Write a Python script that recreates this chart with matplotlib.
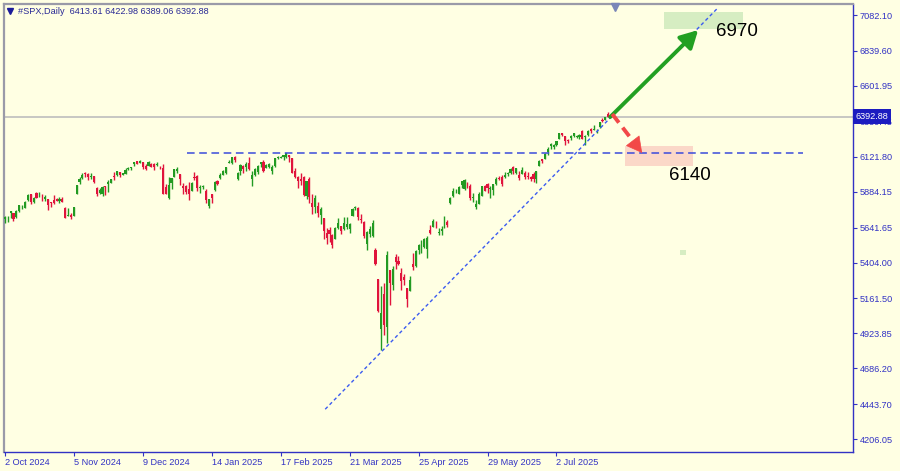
import matplotlib.pyplot as plt
import numpy as np

plt.rcParams['font.family'] = ['Liberation Sans', 'DejaVu Sans']

# #SPX daily bars, 2 Oct 2024 .. 28 Jul 2025 (broker calendar incl. holiday sessions)
opens = [
    5698, 5698, 5737, 5737, 5714, 5751, 5778, 5775, 5829, 5866, 5816, 5875, 5860, 5857, 5833, 5835, 5815, 5826, 5833, 5819, 5833, 5776,
    5723, 5725, 5722, 5869, 5947, 5976, 6009, 6003, 5985, 5990, 5912, 5874, 5870, 5918, 5934, 5945, 5993, 6000, 6015, 5999, 6004,
    6041, 6042, 6069, 6090, 6081, 6085, 6057, 6061, 6074, 6069, 6063, 6052, 6048, 5913, 5842, 5941, 5985, 6025, 6007, 5920, 5920,
    5903, 5891, 5982, 5994, 5910, 5918, 5891, 5788, 5869, 5896, 5960, 5978, 5997, 6014, 6081, 6076, 6121, 5970, 6026, 6057, 6051, 6082,
    5969, 5998, 6020, 6072, 6083, 6046, 6049, 6025, 6060, 6115, 6115, 6121, 6117, 6134, 6115, 6026, 5982, 5970, 5981, 5857,
    5969, 5811, 5782, 5787, 5727, 5705, 5603, 5624, 5594, 5563, 5635, 5654, 5633, 5646, 5630, 5718, 5776, 5772, 5696, 5680, 5527,
    5597, 5581, 5492, 5292, 4953, 5193, 4966, 5353, 5255, 5441, 5412, 5335, 5306, 5232, 5208, 5395, 5381, 5490, 5529, 5508, 5499,
    5626, 5646, 5655, 5605, 5621, 5663, 5680, 5808, 5855, 5893, 5871, 5929, 5903, 5945, 5921, 5842, 5782, 5803, 5855, 5925, 5939, 5903,
    5897, 5939, 5978, 5986, 5987, 6004, 6009, 6049, 6010, 5997, 6004, 6013, 5988, 5981, 6004, 5970, 6061, 6105, 6108, 6151, 6194,
    6188, 6199, 6244, 6279, 6259, 6235, 6246, 6264, 6256, 6255, 6294, 6253, 6269, 6312, 6304, 6307, 6326, 6369, 6371, 6413.61,
]
highs = [
    5720, 5718, 5753, 5739, 5757, 5796, 5796, 5822, 5871, 5870, 5846, 5879, 5879, 5866, 5863, 5835, 5817, 5862, 5843, 5847, 5851, 5780,
    5773, 5742, 5783, 5933, 5983, 6013, 6018, 6010, 6009, 5993, 5916, 5909, 5921, 5920, 5963, 5973, 6021, 6025, 6021, 6012, 6045,
    6053, 6053, 6089, 6092, 6100, 6089, 6069, 6092, 6080, 6079, 6085, 6057, 6071, 5936, 5982, 5978, 6041, 6049, 6007, 5941, 5929,
    5949, 5949, 6021, 6000, 5928, 5930, 5902, 5837, 5872, 5960, 5964, 6012, 6030, 6051, 6100, 6119, 6128, 6017, 6070, 6063, 6086, 6121,
    6022, 6042, 6062, 6084, 6101, 6074, 6076, 6064, 6116, 6128, 6128, 6130, 6147, 6134, 6115, 6044, 5993, 6009, 5993, 5959,
    5987, 5866, 5861, 5812, 5783, 5706, 5636, 5642, 5598, 5645, 5704, 5654, 5716, 5711, 5670, 5775, 5787, 5784, 5732, 5685, 5615,
    5651, 5695, 5500, 5293, 5247, 5268, 5481, 5353, 5381, 5459, 5450, 5368, 5329, 5233, 5310, 5469, 5489, 5529, 5554, 5572, 5581,
    5658, 5700, 5684, 5641, 5654, 5721, 5691, 5846, 5907, 5906, 5925, 5959, 5969, 5953, 5938, 5878, 5829, 5880, 5922, 5930, 5943, 5922,
    5938, 5981, 5991, 5999, 6016, 6021, 6043, 6059, 6046, 6027, 6051, 6023, 6018, 5990, 6019, 6028, 6101, 6108, 6146, 6187, 6215,
    6211, 6228, 6285, 6284, 6263, 6243, 6269, 6285, 6270, 6273, 6302, 6267, 6302, 6315, 6336, 6310, 6360, 6382, 6390, 6422.98,
]
lows = [
    5674, 5677, 5703, 5684, 5704, 5745, 5765, 5775, 5824, 5804, 5809, 5840, 5848, 5824, 5822, 5763, 5784, 5799, 5824, 5811, 5813, 5703,
    5723, 5696, 5722, 5869, 5939, 5970, 5985, 5966, 5968, 5942, 5853, 5866, 5855, 5860, 5885, 5945, 5963, 5992, 5984, 5996, 6004,
    6034, 6033, 6061, 6072, 6078, 6041, 6029, 6060, 6050, 6030, 6059, 6035, 5867, 5866, 5832, 5903, 5983, 6010, 5932, 5868, 5868,
    5829, 5888, 5961, 5890, 5874, 5905, 5808, 5774, 5810, 5888, 5933, 5969, 5995, 6006, 6077, 6075, 6089, 5962, 5995, 6014, 6027, 6030,
    5924, 5992, 6007, 6051, 6020, 6043, 6044, 6003, 6051, 6106, 6110, 6099, 6111, 6084, 6008, 5977, 5908, 5933, 5858, 5837,
    5810, 5733, 5742, 5711, 5667, 5565, 5528, 5546, 5505, 5563, 5633, 5598, 5622, 5632, 5603, 5718, 5757, 5695, 5670, 5573, 5489,
    5574, 5574, 5390, 5070, 4812, 4910, 4856, 5115, 5220, 5358, 5387, 5221, 5255, 5102, 5208, 5356, 5371, 5463, 5468, 5505, 5434,
    5597, 5644, 5639, 5591, 5590, 5637, 5646, 5798, 5850, 5876, 5868, 5908, 5895, 5910, 5830, 5817, 5767, 5800, 5855, 5886, 5875, 5843,
    5862, 5930, 5967, 5921, 5978, 5994, 6001, 6002, 6003, 5964, 6004, 5970, 5971, 5955, 5952, 5944, 6058, 6081, 6108, 6133, 6177,
    6176, 6194, 6242, 6262, 6201, 6216, 6235, 6252, 6250, 6240, 6242, 6203, 6265, 6285, 6302, 6283, 6315, 6355, 6369, 6389.06,
]
closes = [
    5710, 5700, 5751, 5696, 5751, 5792, 5780, 5815, 5860, 5815, 5842, 5841, 5865, 5854, 5851, 5797, 5810, 5808, 5824, 5833, 5814, 5705,
    5729, 5713, 5783, 5929, 5973, 5996, 6001, 5984, 5985, 5949, 5871, 5894, 5917, 5917, 5949, 5969, 5987, 6022, 5999, 6008, 6032,
    6047, 6050, 6086, 6075, 6090, 6053, 6035, 6084, 6051, 6051, 6074, 6051, 5872, 5867, 5931, 5974, 6040, 6038, 5971, 5907, 5882,
    5869, 5942, 5975, 5909, 5918, 5920, 5827, 5836, 5843, 5950, 5937, 5997, 6025, 6049, 6086, 6119, 6101, 6012, 6068, 6039, 6071, 6041,
    5995, 6038, 6061, 6084, 6026, 6066, 6069, 6052, 6115, 6115, 6120, 6130, 6144, 6118, 6013, 5983, 5955, 5956, 5862, 5955,
    5850, 5778, 5843, 5739, 5770, 5615, 5572, 5599, 5522, 5639, 5675, 5615, 5675, 5663, 5668, 5768, 5777, 5712, 5693, 5581, 5612,
    5633, 5671, 5397, 5074, 5062, 4983, 5457, 5268, 5363, 5406, 5397, 5276, 5283, 5158, 5288, 5376, 5485, 5525, 5529, 5561, 5569,
    5604, 5687, 5650, 5607, 5631, 5664, 5660, 5844, 5887, 5893, 5917, 5958, 5964, 5940, 5845, 5842, 5803, 5870, 5922, 5889, 5912, 5912,
    5936, 5970, 5971, 5939, 6000, 6006, 6039, 6022, 6045, 5977, 6033, 5983, 5981, 5970, 5968, 6025, 6092, 6092, 6141, 6173, 6205,
    6198, 6227, 6279, 6270, 6230, 6226, 6263, 6280, 6260, 6269, 6244, 6264, 6297, 6297, 6306, 6310, 6359, 6363, 6389, 6392.88,
]

date_labels = ['2 Oct 2024', '5 Nov 2024', '9 Dec 2024', '14 Jan 2025', '17 Feb 2025',
               '21 Mar 2025', '25 Apr 2025', '29 May 2025', '2 Jul 2025']
bars_per_label = 24
price_ticks = [7082.10, 6839.60, 6601.95, 6359.45, 6121.80, 5884.15, 5641.65,
               5404.00, 5161.50, 4923.85, 4686.20, 4443.70, 4206.05]
header = '#SPX,Daily  6413.61 6422.98 6389.06 6392.88'
last_price = 6392.88

# drawn objects (bar index, price)
resistance_level = 6145
resistance_span = (63.5, 277.8)
trend_line = [(111.5, 4410), (247.8, 7123)]
bull_arrow = [(210.7, 6391), (241.3, 6980)]
bear_arrow = [(211.4, 6411), (221.8, 6147)]
bull_zone = (229.5, 257.0, 6987, 7102)
bear_zone = (215.9, 239.5, 6059, 6194)
bull_target, bear_target = '6970', '6140'
bull_label_at = (247.6, 6967)
bear_label_at = (231.2, 5991)

bg = '#FFFFE3'
blue = '#3232C4'
green = '#229A22'
red = '#E0143C'

fig = plt.figure(figsize=(9, 4.71), dpi=100, facecolor=bg)
ax = fig.add_axes([4 / 900, 19 / 471, 849 / 900, 448 / 471], facecolor=bg)

o, h, l, c = (np.array(v, dtype=float) for v in (opens, highs, lows, closes))
x = np.arange(len(c))
cols = np.where(c >= o, green, red)
ax.vlines(x, l, h, colors=cols, lw=1.0, zorder=3)
ax.bar(x, np.maximum(np.abs(c - o), 4), bottom=np.minimum(o, c), width=0.74,
       color=cols, linewidth=0, zorder=3)

# current price line
ax.axhline(last_price, color='#BDBDBD', lw=1.2, zorder=1)

# resistance and trend line
ax.hlines(resistance_level, *resistance_span, colors='#3A4BDB', lw=1.1,
          linestyles=(0, (5, 3)), zorder=4)
ax.plot([p[0] for p in trend_line], [p[1] for p in trend_line], color='#3B5BF0',
        lw=1.0, ls=(0, (2.5, 2)), zorder=4)

# target zones
for (x0, x1, y0, y1), fc in [(bull_zone, '#D6EDC2'), (bear_zone, '#FBD8C8')]:
    ax.add_patch(plt.Rectangle((x0, y0), x1 - x0, y1 - y0, facecolor=fc,
                               edgecolor='none', zorder=2))
ax.add_patch(plt.Rectangle((235, 5455), 2.1, 34, facecolor='#D6EDC2',
                           edgecolor='none', zorder=2))

# bullish arrow
ax.annotate('', xy=bull_arrow[1], xytext=bull_arrow[0], zorder=5,
            arrowprops=dict(arrowstyle='-|>,head_length=0.7,head_width=0.38',
                            mutation_scale=15, lw=2.8, color='#22A022',
                            shrinkA=0, shrinkB=0))
# bearish dashed arrow
(sx, sy), (tx, ty) = bear_arrow
hx, hy = tx - 0.27 * (tx - sx), ty - 0.27 * (ty - sy)
ax.plot([sx, hx], [sy, hy], color='#F24848', lw=2.8, ls=(0, (2.8, 1.6)),
        solid_capstyle='butt', zorder=5)
ax.annotate('', xy=(tx, ty), xytext=(hx, hy), zorder=5,
            arrowprops=dict(arrowstyle='-|>,head_length=0.7,head_width=0.38',
                            mutation_scale=15, lw=0.5, color='#F24848',
                            shrinkA=0, shrinkB=0))

ax.text(*bull_label_at, bull_target, fontsize=13.5, color='black',
        va='center', ha='left', zorder=6)
ax.text(*bear_label_at, bear_target, fontsize=13.5, color='black',
        va='center', ha='left', zorder=6)

ax.set_xlim(-0.3, 295.2)
ax.set_ylim(4120, 7156.7)

# axes styling
ax.yaxis.tick_right()
ax.set_yticks(price_ticks)
ax.set_yticklabels([f'{v:.2f}' for v in price_ticks])
ax.set_xticks(np.arange(len(date_labels)) * bars_per_label)
ax.set_xticklabels(date_labels)
for lab in ax.get_xticklabels():
    lab.set_ha('left')
ax.tick_params(axis='both', colors=blue, labelsize=6.6, length=3, width=0.8,
               direction='out', pad=2)
ax.tick_params(axis='x', pad=1.5)
for side in ['right', 'bottom']:
    ax.spines[side].set_color(blue)
    ax.spines[side].set_linewidth(1.0)
for side in ['left', 'top']:
    ax.spines[side].set_color('#9A9AA8')
    ax.spines[side].set_linewidth(1.6)

# last price tag on the price scale
ax.text(1.003, last_price, f'{last_price:.2f}', transform=ax.get_yaxis_transform(),
        fontsize=6.6, color='white', va='center', ha='left', zorder=10,
        bbox=dict(boxstyle='square,pad=0.3', facecolor='#1C1CC0', edgecolor='none'))

# chart shift marker and header
ax.plot([212.2], [7135], marker='v', markersize=6, color='#7A86B8',
        clip_on=False, zorder=10)
ax.plot([6 / 849], [1 - 6.5 / 448], marker='v', markersize=4.5, color='#1C1C9A',
        transform=ax.transAxes, zorder=10)
fig.text(18 / 900, 1 - 11 / 471, header, fontsize=6.6, color='#2A2A96',
         va='center', ha='left')

fig.savefig('out.png', dpi=100, facecolor=bg)
